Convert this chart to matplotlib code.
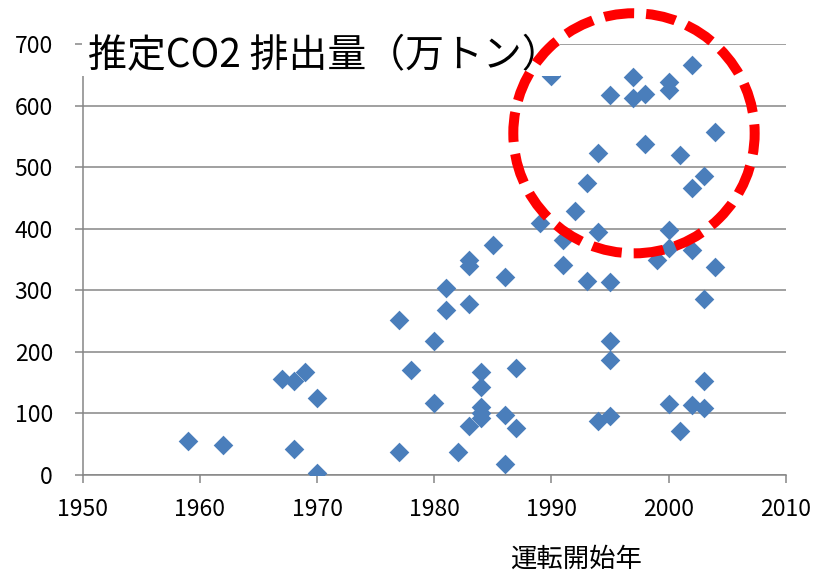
import matplotlib
matplotlib.use("Agg")
import matplotlib.pyplot as plt
from matplotlib.patches import Rectangle, Ellipse

plt.rcParams['font.family'] = ['Noto Sans CJK JP', 'DejaVu Sans']

# start year of operation / estimated CO2 emissions (10k t)
years = [1959, 1962, 1967, 1968, 1968, 1969, 1970, 1970,
         1977, 1977, 1978, 1980, 1980, 1981, 1981, 1982,
         1983, 1983, 1983, 1983, 1984, 1984, 1984, 1984, 1984,
         1985, 1986, 1986, 1986, 1987, 1987, 1989, 1990,
         1991, 1991, 1992, 1993, 1993, 1994, 1994, 1994,
         1995, 1995, 1995, 1995, 1995, 1997, 1997, 1998, 1998, 1999,
         2000, 2000, 2000, 2000, 2000, 2001, 2001,
         2002, 2002, 2002, 2002, 2003, 2003, 2003, 2003, 2004, 2004]
co2 = [55, 49, 156, 152, 42, 168, 125, 3,
       252, 37, 170, 218, 117, 303, 268, 38,
       349, 340, 277, 80, 168, 143, 111, 100, 93,
       374, 321, 97, 18, 174, 77, 410, 648,
       382, 341, 429, 475, 315, 523, 395, 87,
       618, 313, 218, 187, 96, 646, 613, 619, 537, 349,
       639, 626, 398, 368, 115, 519, 71,
       666, 466, 365, 114, 486, 286, 152, 109, 557, 338]

x_ticks = [1950, 1960, 1970, 1980, 1990, 2000, 2010]
y_ticks = [0, 100, 200, 300, 400, 500, 600, 700]

title = "推定CO2 排出量（万トン）"
xlabel = "運転開始年"

grey = "#868686"
blue = "#4a7ebb"

fig = plt.figure(figsize=(8.23, 5.74), dpi=100)
ax = fig.add_axes([0.1005, 0.1725, 0.8542, 0.7508])

ax.scatter(years, co2, marker="D", s=100, color=blue, linewidths=0, zorder=3)

ax.set_xlim(1950, 2010)
ax.set_ylim(0, 700)
ax.set_xticks(x_ticks)
ax.set_yticks(y_ticks)
ax.tick_params(axis="both", labelsize=16.5, color=grey, width=1.1, length=5.5)
ax.tick_params(axis="y", pad=16)
ax.tick_params(axis="x", pad=11)
ax.yaxis.grid(True, color=grey, linewidth=1.1)
ax.set_axisbelow(True)
for side in ["top", "right"]:
    ax.spines[side].set_visible(False)
for side in ["left", "bottom"]:
    ax.spines[side].set_color(grey)
    ax.spines[side].set_linewidth(1.1)

# white box behind the title hides the top gridline
fig.add_artist(Rectangle((82 / 823, 1 - 76 / 574), (560 - 82) / 823, 76 / 574,
                         transform=fig.transFigure, facecolor="white",
                         edgecolor="none", zorder=2))
fig.text(88 / 823, 1 - 67 / 574, title, fontsize=28, va="baseline", ha="left", zorder=4)

fig.text(576 / 823, 1 - 559 / 574, xlabel, fontsize=19, ha="center", va="center")

# red dashed circle around the recent plants
circle = Ellipse((1997.05, 555), 20.6, 390, transform=ax.transData, fill=False,
                 edgecolor="#ff0000", linewidth=7.2, linestyle=(0, (3, 1.2)), zorder=5)
fig.add_artist(circle)

fig.savefig("out.png", dpi=100)
